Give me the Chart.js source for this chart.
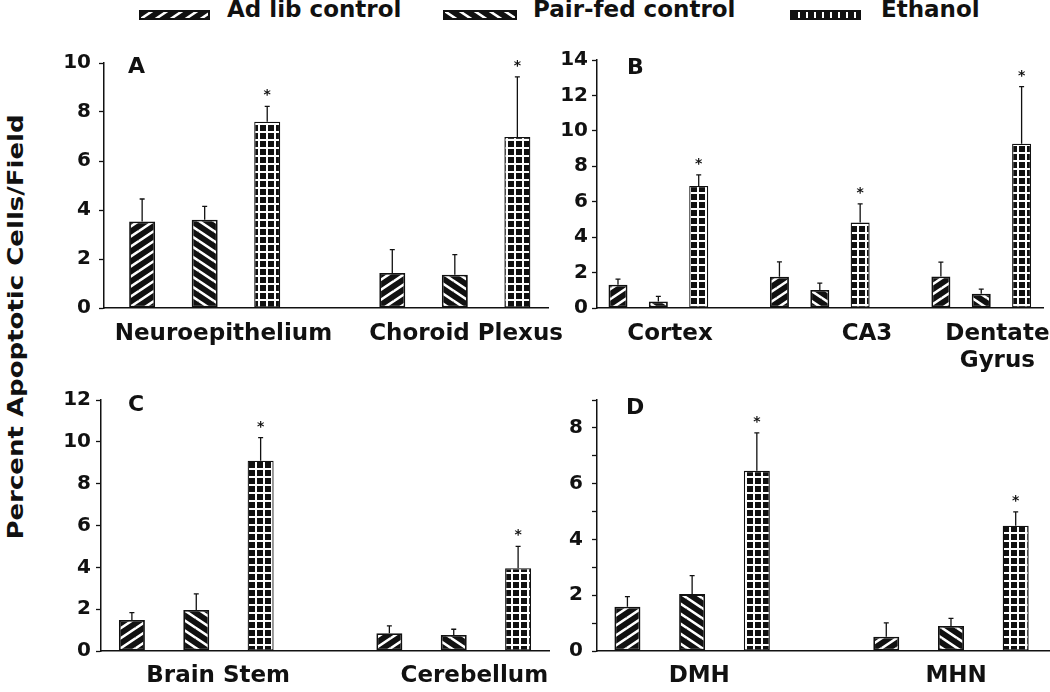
<!DOCTYPE html>
<html>
<head>
<meta charset="utf-8">
<script src="https://cdn.jsdelivr.net/npm/chart.js@4.4.1/dist/chart.umd.min.js"></script>
<style>
  html, body { margin: 0; padding: 0; background: #fff; }
  body { width: 1050px; height: 692px; position: relative; overflow: hidden;
         font-family: "DejaVu Sans", sans-serif; font-weight: bold; color: #111; }
  canvas.panel { position: absolute; }
  .lg { position: absolute; font-size: 23px; line-height: 23px; white-space: nowrap; top: -2px; }
  .sw { position: absolute; top: 10px; height: 10px; }
  #ytitle { position: absolute; left: 15px; top: 327px; font-size: 26px; line-height: 26px; white-space: nowrap;
            transform: translate(-50%, -50%) rotate(-90deg) scale(1, 0.85); }
</style>
</head>
<body>

<canvas class="sw" id="sw0" width="71" height="10" style="left:139px"></canvas>
<div class="lg" style="left:227px">Ad lib control</div>
<canvas class="sw" id="sw1" width="74" height="10" style="left:443px"></canvas>
<div class="lg" style="left:533px">Pair-fed control</div>
<canvas class="sw" id="sw2" width="71" height="10" style="left:790px"></canvas>
<div class="lg" style="left:881px">Ethanol</div>

<div id="ytitle">Percent Apoptotic Cells/Field</div>

<canvas class="panel" id="panelA" width="546" height="327" style="left:34px;top:51px"></canvas>
<canvas class="panel" id="panelB" width="513" height="330" style="left:537px;top:48px"></canvas>
<canvas class="panel" id="panelC" width="549" height="304" style="left:31px;top:388px"></canvas>
<canvas class="panel" id="panelD" width="513" height="304" style="left:537px;top:388px"></canvas>

<script>
// ====== DATA ======
const SERIES = ["Ad lib control", "Pair-fed control", "Ethanol"];

// A
const A_REGIONS = ["Neuroepithelium", "Choroid Plexus"];
const A_ADLIB = [3.53, 1.43];
const A_PAIRFED = [3.6, 1.36];
const A_ETHANOL = [7.6, 6.98];
const A_ADLIB_SEM = [0.92, 0.95];
const A_PAIRFED_SEM = [0.55, 0.82];
const A_ETHANOL_SEM = [0.63, 2.45];
const A_STARS = [true, true];
const A_Y_MAX = 10;

// B
const B_REGIONS = ["Cortex", "CA3", ["Dentate", "Gyrus"]];
const B_ADLIB = [1.31, 1.77, 1.78];
const B_PAIRFED = [0.37, 1.02, 0.81];
const B_ETHANOL = [6.89, 4.82, 9.27];
const B_ADLIB_SEM = [0.32, 0.83, 0.81];
const B_PAIRFED_SEM = [0.29, 0.38, 0.26];
const B_ETHANOL_SEM = [0.62, 1.06, 3.23];
const B_STARS = [true, true, true];
const B_Y_MAX = 14;

// C
const C_REGIONS = ["Brain Stem", "Cerebellum"];
const C_ADLIB = [1.48, 0.85];
const C_PAIRFED = [1.96, 0.77];
const C_ETHANOL = [9.1, 3.96];
const C_ADLIB_SEM = [0.35, 0.35];
const C_PAIRFED_SEM = [0.77, 0.27];
const C_ETHANOL_SEM = [1.1, 1.04];
const C_STARS = [true, true];
const C_Y_MAX = 12;

// D
const D_REGIONS = ["DMH", "MHN"];
const D_ADLIB = [1.59, 0.51];
const D_PAIRFED = [2.04, 0.9];
const D_ETHANOL = [6.46, 4.49];
const D_ADLIB_SEM = [0.36, 0.5];
const D_PAIRFED_SEM = [0.66, 0.27];
const D_ETHANOL_SEM = [1.36, 0.5];
const D_STARS = [true, true];
const D_Y_MAX = 9;

// ====== STYLE / LAYOUT ======
const INK = "#111";
const FONT = '"DejaVu Sans", sans-serif';
Chart.defaults.font.family = FONT;
Chart.defaults.color = INK;

// bar slot = 1 unit on x; a group is 3 bars + one empty slot
const SLOTS_PER_GROUP = 4;

const panels = {
  A: { canvas: "panelA", letter: "A", yStep: 1, yPad: 8, yW: 70, xH: 70, pad: { left: 0, top: 12, right: 32, bottom: 0 },
       xMin: -0.61, xMax: 6.49, labelPos: [1.3, 5.18], barW: 26, letterDx: 24, letterDy: -6 },
  B: { canvas: "panelB", letter: "B", yStep: 2, yPad: 4, yW: 60, xH: 70, pad: { left: 0, top: 12, right: 7, bottom: 0 },
       xMin: -0.52, xMax: 10.53, labelPos: [1.29, 6.17, 9.4], barW: 19, letterDx: 30, letterDy: -2 },
  C: { canvas: "panelC", letter: "C", yStep: 2, yPad: 5, yW: 70, xH: 41, pad: { left: 0, top: 12, right: 31, bottom: 0 },
       xMin: -0.48, xMax: 6.48, labelPos: [1.34, 5.32], barW: 26, letterDx: 27, letterDy: -5 },
  D: { canvas: "panelD", letter: "D", yStep: 1, yPad: 9, yW: 60, xH: 41, pad: { left: 0, top: 12, right: 0, bottom: 0 },
       xMin: -0.47, xMax: 6.53, labelPos: [1.11, 5.08], barW: 26, letterDx: 29, letterDy: -2 }
};

// ====== PATTERNS ======
function makeTile(kind) {
  const c = document.createElement("canvas");
  const ctx = c.getContext("2d");
  if (kind === "grid") {
    const s = 8;
    c.width = s; c.height = s;
    ctx.fillStyle = INK; ctx.fillRect(0, 0, s, s);
    ctx.fillStyle = "#fff"; ctx.fillRect(0, 0, s, 2); ctx.fillRect(0, 0, 2, s);
    return c;
  }
  // diagonal white stripes on black, about 34 degrees
  const w = 15, h = 10;
  c.width = w; c.height = h;
  ctx.fillStyle = INK; ctx.fillRect(0, 0, w, h);
  ctx.strokeStyle = "#fff"; ctx.lineWidth = 2.6;
  ctx.beginPath();
  for (const dx of [-w, 0, w]) {
    for (const dy of [-h, 0, h]) {
      if (kind === "fwd") { ctx.moveTo(dx, dy + h); ctx.lineTo(dx + w, dy); }
      else { ctx.moveTo(dx, dy); ctx.lineTo(dx + w, dy + h); }
    }
  }
  ctx.stroke();
  return c;
}
const tiles = [makeTile("fwd"), makeTile("back"), makeTile("grid")];
function patternFor(ctx, i) { return ctx.createPattern(tiles[i], "repeat"); }

// legend swatches
tiles.forEach((t, i) => {
  const cv = document.getElementById("sw" + i);
  const ctx = cv.getContext("2d");
  ctx.fillStyle = patternFor(ctx, i);
  ctx.fillRect(0, 0, cv.width, cv.height);
  ctx.strokeStyle = INK; ctx.lineWidth = 2;
  ctx.strokeRect(1, 1, cv.width - 2, cv.height - 2);
});

// ====== PLUGINS ======
const errorBars = {
  id: "errorBars",
  afterDatasetsDraw(chart) {
    const { ctx } = chart;
    const y = chart.scales.y;
    chart.data.datasets.forEach((ds, di) => {
      const meta = chart.getDatasetMeta(di);
      meta.data.forEach((bar, i) => {
        const top = y.getPixelForValue(ds.data[i].y + ds.sem[i]);
        ctx.save();
        ctx.strokeStyle = INK; ctx.lineWidth = 1.3;
        ctx.beginPath();
        ctx.moveTo(bar.x, bar.y); ctx.lineTo(bar.x, top);
        ctx.moveTo(bar.x - 2.5, top); ctx.lineTo(bar.x + 2.5, top);
        ctx.stroke();
        if (ds.stars && ds.stars[i]) {
          ctx.fillStyle = INK;
          ctx.font = "bold 14px " + FONT;
          ctx.textAlign = "center";
          ctx.textBaseline = "alphabetic";
          ctx.fillText("*", bar.x, top - 7);
        }
        ctx.restore();
      });
    });
  }
};

const panelLetter = {
  id: "panelLetter",
  afterDraw(chart, args, opts) {
    const { ctx, chartArea } = chart;
    ctx.save();
    ctx.fillStyle = INK;
    ctx.font = "bold 22px " + FONT;
    ctx.textBaseline = "alphabetic";
    ctx.fillText(opts.text, chartArea.left + opts.dx, chartArea.top + opts.dy + 16);
    ctx.restore();
  }
};

// ====== CHARTS ======
function buildPanel(p, regions, series, sems, stars, yMax) {
  const cv = document.getElementById(p.canvas);
  const ctx = cv.getContext("2d");
  const datasets = series.map((vals, s) => ({
    label: SERIES[s],
    data: vals.map((v, g) => ({ x: g * SLOTS_PER_GROUP + s, y: v })),
    sem: sems[s],
    stars: s === 2 ? stars : null,
    backgroundColor: patternFor(ctx, s),
    borderColor: INK,
    borderWidth: s === 2 ? 1.3 : 1.8,
    borderSkipped: false,
    grouped: false,
    categoryPercentage: 1,
    barPercentage: 0.9,
    maxBarThickness: p.barW
  }));

  return new Chart(cv, {
    type: "bar",
    data: { datasets },
    plugins: [errorBars, panelLetter],
    options: {
      responsive: false,
      animation: false,
      layout: { padding: p.pad },
      plugins: {
        legend: { display: false },
        tooltip: { enabled: false },
        panelLetter: { text: p.letter, dx: p.letterDx, dy: p.letterDy }
      },
      scales: {
        x: {
          type: "linear",
          offset: false,
          min: p.xMin,
          max: p.xMax,
          afterBuildTicks: (sc) => { sc.ticks = p.labelPos.map(v => ({ value: v })); },
          afterFit: (sc) => { sc.height = p.xH; sc.paddingLeft = 0; sc.paddingRight = 0; },
          ticks: {
            autoSkip: false, maxRotation: 0, minRotation: 0,
            padding: p.xH > 50 ? 13 : 12,
            font: { size: 23, weight: "bold", lineHeight: 1.15 },
            color: INK,
            callback: (v, i) => regions[i]
          },
          grid: { display: false, drawTicks: false, offset: false },
          border: { display: true, color: INK, width: 1.5 }
        },
        y: {
          min: 0,
          max: yMax,
          afterFit: (sc) => { sc.width = p.yW; sc.paddingTop = 0; sc.paddingBottom = 0; },
          ticks: {
            stepSize: p.yStep,
            padding: p.yPad,
            font: { size: 20, weight: "bold" },
            color: INK,
            callback: (v) => (v % 2 === 0 ? String(v) : "")
          },
          grid: { display: true, drawOnChartArea: false, drawTicks: true, tickLength: 5, tickColor: INK, tickWidth: 1.3 },
          border: { display: true, color: INK, width: 1.5 }
        }
      }
    }
  });
}

buildPanel(panels.A, A_REGIONS, [A_ADLIB, A_PAIRFED, A_ETHANOL], [A_ADLIB_SEM, A_PAIRFED_SEM, A_ETHANOL_SEM], A_STARS, A_Y_MAX);
buildPanel(panels.B, B_REGIONS, [B_ADLIB, B_PAIRFED, B_ETHANOL], [B_ADLIB_SEM, B_PAIRFED_SEM, B_ETHANOL_SEM], B_STARS, B_Y_MAX);
buildPanel(panels.C, C_REGIONS, [C_ADLIB, C_PAIRFED, C_ETHANOL], [C_ADLIB_SEM, C_PAIRFED_SEM, C_ETHANOL_SEM], C_STARS, C_Y_MAX);
buildPanel(panels.D, D_REGIONS, [D_ADLIB, D_PAIRFED, D_ETHANOL], [D_ADLIB_SEM, D_PAIRFED_SEM, D_ETHANOL_SEM], D_STARS, D_Y_MAX);
</script>
</body>
</html>
